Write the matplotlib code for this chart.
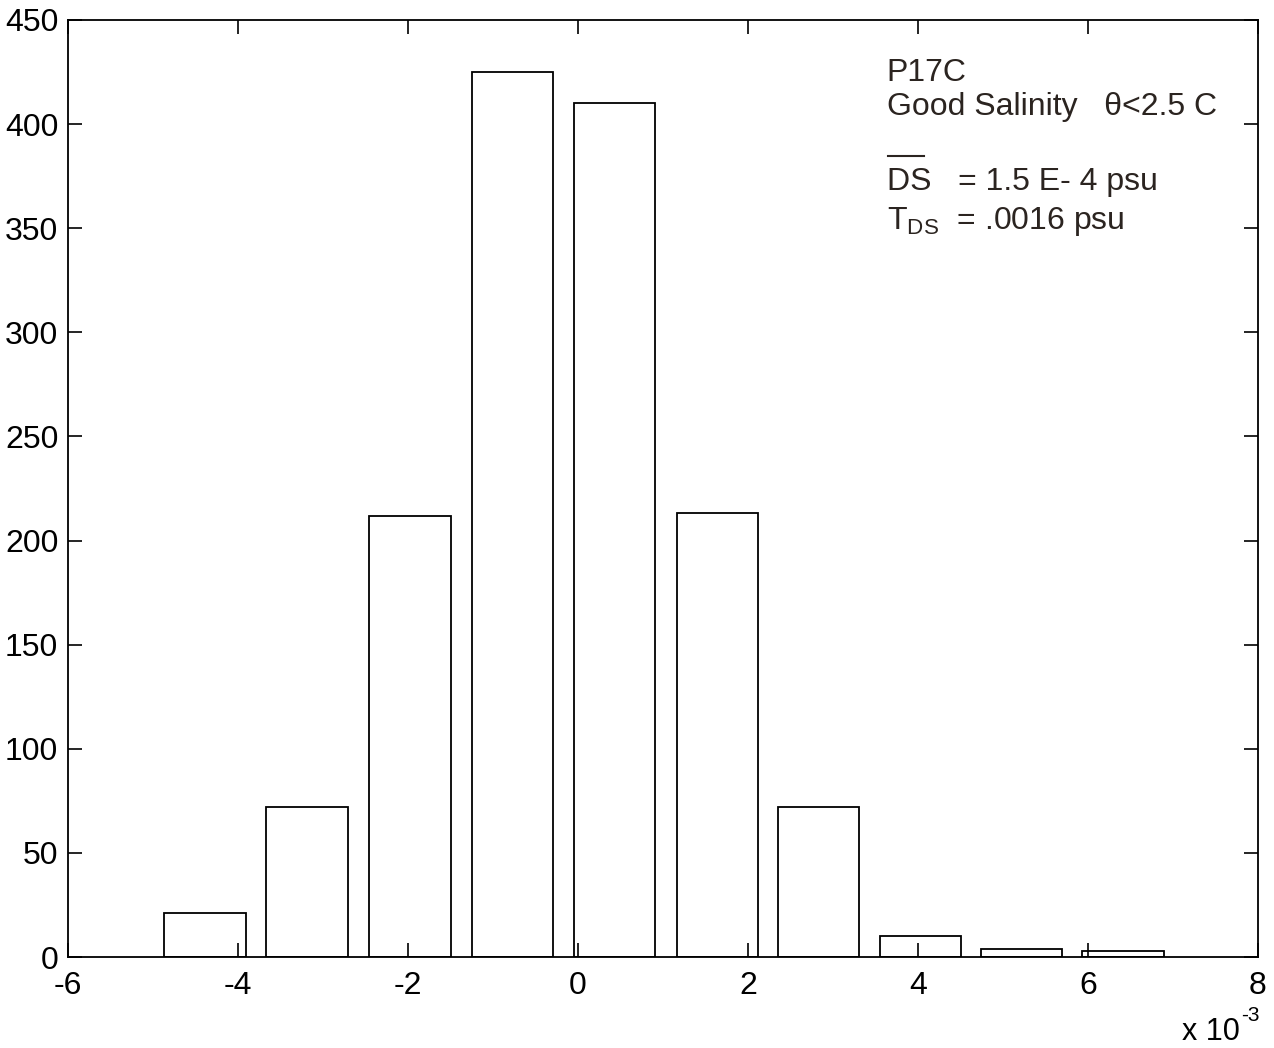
import matplotlib
matplotlib.use("Agg")
import matplotlib.pyplot as plt
from matplotlib.lines import Line2D

plt.rcParams['font.family'] = ['Liberation Sans', 'DejaVu Sans']
plt.rcParams['mathtext.fontset'] = 'custom'
plt.rcParams['mathtext.rm'] = 'Liberation Sans'
plt.rcParams['mathtext.it'] = 'Liberation Sans'
plt.rcParams['axes.unicode_minus'] = False

# histogram of salinity differences (x in units of 1e-3 psu)
bin_centers = [-4.39, -3.19, -1.98, -0.77, 0.43, 1.64, 2.83, 4.03, 5.22, 6.41]
counts = [21, 72, 212, 425, 410, 213, 72, 10, 4, 3]
bar_width = 0.96

xticks = [-6, -4, -2, 0, 2, 4, 6, 8]
yticks = [0, 50, 100, 150, 200, 250, 300, 350, 400, 450]

fig = plt.figure(figsize=(12.74, 10.48), dpi=100)
ax = fig.add_axes([0.0534, 0.0868, 0.934, 0.8942])

ax.bar(bin_centers, counts, width=bar_width, facecolor='white',
       edgecolor='black', linewidth=1.3)

ax.set_xlim(-6, 8)
ax.set_ylim(0, 450)
ax.set_xticks(xticks)
ax.set_yticks(yticks)
ax.tick_params(direction='in', length=10, width=1.2, labelsize=23,
               top=True, right=True)
ax.tick_params(axis='x', pad=10)
ax.tick_params(axis='y', pad=7)
for s in ax.spines.values():
    s.set_linewidth(1.3)

# annotation block
tc = '#2b2420'
tx = 0.688
ax.text(tx, 0.935, 'P17C', transform=ax.transAxes, fontsize=23, color=tc)
ax.text(tx, 0.898, 'Good Salinity   \u03b8<2.5 C', transform=ax.transAxes,
        fontsize=23, color=tc)
ax.add_line(Line2D([tx + 0.001, tx + 0.031], [0.855, 0.855],
                   transform=ax.transAxes, color=tc, linewidth=1.5))
ax.text(tx, 0.818, 'DS   = 1.5 E- 4 psu', transform=ax.transAxes,
        fontsize=23, color=tc)
ax.text(tx, 0.777, 'T$_{\\mathrm{DS}}$  = .0016 psu', transform=ax.transAxes,
        fontsize=23, color=tc)

# x-axis multiplier
fig.text(0.9735, 0.0076, 'x 10', fontsize=22, ha='right')
fig.text(0.9745, 0.026, '-3', fontsize=15, ha='left')

fig.savefig('out.png', dpi=100, facecolor='white')
